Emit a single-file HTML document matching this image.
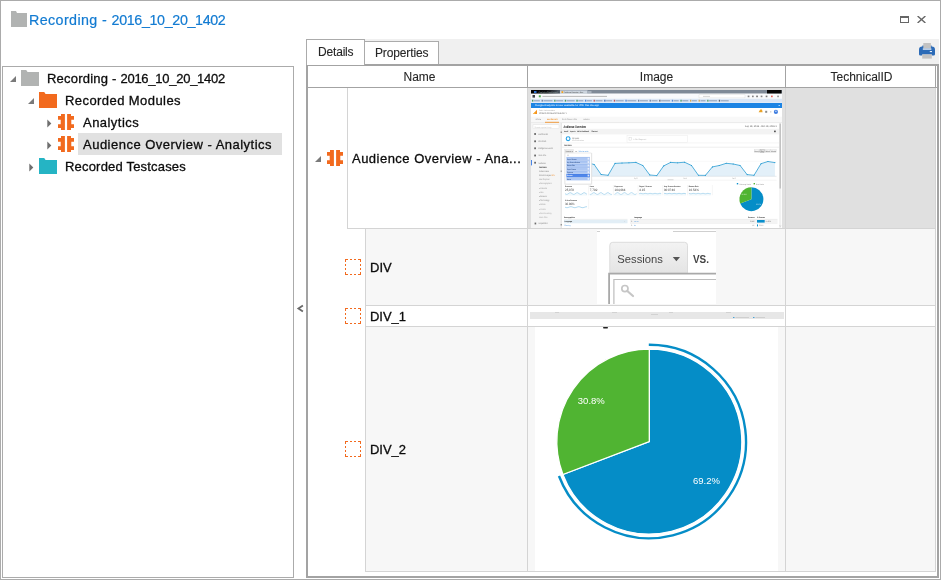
<!DOCTYPE html>
<html lang="en">
<head>
<meta charset="utf-8">
<title>Recording - 2016_10_20_1402</title>
<style>
html,body{margin:0;padding:0;}
body{width:941px;height:580px;position:relative;overflow:hidden;background:#fff;
  font-family:"Liberation Sans",sans-serif;color:#111;}
.abs{position:absolute;}
.t{position:absolute;white-space:nowrap;line-height:16px;color:#0c0c0c;-webkit-text-stroke:0.3px #0c0c0c;}
#win{left:0;top:0;width:939px;height:578px;border:1px solid #ababab;}
#title{left:29px;top:10px;font-size:14.3px;line-height:20px;color:#127bd2;-webkit-text-stroke:0.2px #127bd2;}
#tree{left:2px;top:66px;width:290px;height:510px;border:1px solid #ababab;background:#fff;}
.tr{font-size:13px;line-height:22px;height:22px;}
#sel{left:78px;top:133px;width:204px;height:22px;background:#e1e1e1;}
#strip{left:365px;top:39px;width:574px;height:25px;background:#f0f0f0;}
.tab{position:absolute;border:1px solid #ababab;border-bottom:none;background:#fff;font-size:12px;}
#grid{left:306px;top:64px;width:629px;height:510px;border:2px solid #a3a3a3;background:#fff;}
.hd{font-size:12px;line-height:20px;text-align:center;color:#262626;-webkit-text-stroke:0.1px #262626;}
.ln{position:absolute;background:#d4d4d4;}
.dk{position:absolute;background:#a3a3a3;}
.cell{position:absolute;}
.gt{font-size:13px;line-height:20px;}
</style>
</head>
<body>
<div id="win" class="abs"></div>

<!-- title bar -->
<svg class="abs" style="left:11px;top:11px" width="16" height="16" viewBox="0 0 16 16"><path d="M0 0H5L6 2H16V16H0Z" fill="#b1b3b2"/></svg>
<div id="title" class="t"><span id="ta" style="letter-spacing:0.39px">Recording - </span><span id="tb" style="letter-spacing:-0.36px">2016_10_20_1402</span></div>
<svg class="abs" style="left:900px;top:16px" width="9" height="7" viewBox="0 0 9 7"><path d="M0 0H9V7H0Z M1 2V6H8V2Z" fill="#666" fill-rule="evenodd"/></svg>
<svg class="abs" style="left:917px;top:16px" width="9" height="7" viewBox="0 0 9 7"><path d="M0.6 0L8.4 7M8.4 0L0.6 7" stroke="#666" stroke-width="1.4" fill="none"/></svg>

<!-- tree panel -->
<div id="tree" class="abs"></div>
<div id="sel" class="abs"></div>
<div id="treeitems">
<svg class="abs" style="left:10px;top:76px" width="7" height="7" viewBox="0 0 7 7"><path d="M6 0V6H0Z" fill="#7a7a7a"/></svg>
<svg class="abs" style="left:21px;top:70px" width="18" height="16" viewBox="0 0 18 16"><path d="M0 0H5.2L6.6 2H18V16H0Z" fill="#b1b3b2"/></svg>
<div class="t tr" id="r1" style="left:47px;top:68px;"><span id="r1a" style="letter-spacing:0.22px">Recording - </span><span id="r1b" style="letter-spacing:-0.26px">2016_10_20_1402</span></div>
<svg class="abs" style="left:28px;top:98px" width="7" height="7" viewBox="0 0 7 7"><path d="M6 0V6H0Z" fill="#7a7a7a"/></svg>
<svg class="abs" style="left:39px;top:92px" width="18" height="16" viewBox="0 0 18 16"><path d="M0 0H5.2L6.6 2H18V16H0Z" fill="#f26a1e"/></svg>
<div class="t tr" id="r2" style="letter-spacing:0.43px;left:65px;top:90px;">Recorded Modules</div>
<svg class="abs" style="left:47px;top:118.5px" width="5" height="9" viewBox="0 0 5 9"><path d="M0.3 0.5L4.3 4.5L0.3 8.5Z" fill="#6e6e6e"/></svg>
<svg class="abs" style="left:58px;top:114px" width="16" height="16" viewBox="0 0 16 16"><path d="M3 0H6.9V16H3V13.9H0V10.3H2.7V5.7H0V1.9H3Z M13 0H9.1V16H13V13.9H16V10.3H13.3V5.7H16V1.9H13Z" fill="#f26a1e"/></svg>
<div class="t tr" id="r3" style="letter-spacing:0.46px;left:83px;top:112px;">Analytics</div>
<svg class="abs" style="left:47px;top:140.5px" width="5" height="9" viewBox="0 0 5 9"><path d="M0.3 0.5L4.3 4.5L0.3 8.5Z" fill="#6e6e6e"/></svg>
<svg class="abs" style="left:58px;top:136px" width="16" height="16" viewBox="0 0 16 16"><path d="M3 0H6.9V16H3V13.9H0V10.3H2.7V5.7H0V1.9H3Z M13 0H9.1V16H13V13.9H16V10.3H13.3V5.7H16V1.9H13Z" fill="#f26a1e"/></svg>
<div class="t tr" id="r4" style="letter-spacing:0.49px;left:83px;top:134px;">Audience Overview - Analytics</div>
<svg class="abs" style="left:29px;top:162.5px" width="5" height="9" viewBox="0 0 5 9"><path d="M0.3 0.5L4.3 4.5L0.3 8.5Z" fill="#6e6e6e"/></svg>
<svg class="abs" style="left:39px;top:158px" width="18" height="16" viewBox="0 0 18 16"><path d="M0 0H5.2L6.6 2H18V16H0Z" fill="#25b4c4"/></svg>
<div class="t tr" id="r5" style="letter-spacing:0.19px;left:65px;top:156px;">Recorded Testcases</div>
</div>

<!-- splitter chevron -->
<svg class="abs" style="left:296px;top:304px" width="8" height="9" viewBox="0 0 8 9"><path d="M6.9 1.4L2.4 4.5L6.9 7.6" stroke="#6a6a6a" stroke-width="1.8" fill="none"/></svg>

<!-- tab strip -->
<div id="strip" class="abs"></div>
<div class="tab" style="left:306px;top:39px;width:57px;height:25px;z-index:3;"></div>
<div class="tab" style="left:365px;top:41px;width:73px;height:22px;border-left:none;"></div>
<div class="t" id="tabD" style="color:#262626;-webkit-text-stroke:0.1px #262626;letter-spacing:-0.18px;z-index:4;left:318px;top:44px;font-size:12px;">Details</div>
<div class="t" id="tabP" style="color:#262626;-webkit-text-stroke:0.1px #262626;letter-spacing:-0.13px;left:375px;top:45px;font-size:12px;">Properties</div>

<svg class="abs" style="left:919px;top:43px" width="16" height="16" viewBox="0 0 16 16">
<path d="M3.2 3.6H3.4V2.6H12.6V3.6H12.8Q16 3.6 16 6.8V11.2Q16 12.6 14.6 12.6H12.8V11.4H3.2V12.6H1.4Q0 12.6 0 11.2V6.8Q0 3.6 3.2 3.6Z" fill="#2c6bb7"/>
<rect x="4.3" y="0" width="7.6" height="5.5" fill="#c2c2c2"/>
<rect x="3.8" y="5.5" width="8.6" height="1.2" fill="#f4f7fb"/>
<rect x="10.8" y="8" width="2.2" height="1.1" fill="#e9f0f8"/>
<rect x="3.2" y="11.4" width="9.6" height="4.2" fill="#c2c2c2"/>
</svg>
<!-- grid -->
<div id="grid" class="abs"></div>
<div id="gridbody">
<div class="t hd" id="hN" style="left:310px;top:67px;width:219px;">Name</div>
<div class="t hd" id="hI" style="left:528px;top:67px;width:257px;">Image</div>
<div class="t hd" id="hT" style="left:787px;top:67px;width:149px;">TechnicalID</div>
<div class="dk" style="left:527px;top:66px;width:1px;height:21px;"></div>
<div class="dk" style="left:785px;top:66px;width:1px;height:21px;"></div>
<div class="dk" style="left:935px;top:66px;width:1px;height:21px;"></div>
<div class="dk" style="left:308px;top:87px;width:629px;height:1px;"></div>
<div class="cell" style="left:528px;top:88px;width:407px;height:140px;background:#e0e0e0;"></div>
<div class="cell" style="left:366px;top:229px;width:569px;height:76px;background:#f7f7f7;"></div>
<div class="cell" style="left:366px;top:327px;width:569px;height:244px;background:#f7f7f7;"></div>
<div class="ln" style="left:347px;top:88px;width:1px;height:141px;"></div>
<div class="ln" style="left:347px;top:228px;width:589px;height:1px;"></div>
<div class="ln" style="left:365px;top:229px;width:1px;height:343px;"></div>
<div class="ln" style="left:365px;top:305px;width:571px;height:1px;"></div>
<div class="ln" style="left:365px;top:326px;width:571px;height:1px;"></div>
<div class="ln" style="left:365px;top:571px;width:571px;height:1px;"></div>
<div class="ln" style="left:527px;top:88px;width:1px;height:484px;"></div>
<div class="ln" style="left:785px;top:88px;width:1px;height:484px;"></div>
<div class="ln" style="left:935px;top:88px;width:1px;height:484px;"></div>
<svg class="abs" style="left:315px;top:156px" width="7" height="7" viewBox="0 0 7 7"><path d="M6 0V6H0Z" fill="#7a7a7a"/></svg>
<svg class="abs" style="left:327px;top:150px" width="16" height="16" viewBox="0 0 16 16"><path d="M3 0H6.9V16H3V13.9H0V10.3H2.7V5.7H0V1.9H3Z M13 0H9.1V16H13V13.9H16V10.3H13.3V5.7H16V1.9H13Z" fill="#f26a1e"/></svg>
<div class="t gt" id="g1" style="letter-spacing:0.48px;left:352px;top:149px;">Audience Overview - Ana...</div>
<svg class="abs" style="left:345px;top:259px" width="16" height="16" viewBox="0 0 16 16"><path d="M0 0.5H3M0 15.5H3M0.5 0V3M15.5 0V3M5 0.5H7M5 15.5H7M0.5 5V7M15.5 5V7M9 0.5H11M9 15.5H11M0.5 9V11M15.5 9V11M13 0.5H16M13 15.5H16M0.5 13V16M15.5 13V16" stroke="#f26a1e" stroke-width="1" fill="none"/></svg>
<div class="t gt" id="g2" style="letter-spacing:0.0px;left:370px;top:258px;">DIV</div>
<svg class="abs" style="left:345px;top:308px" width="16" height="16" viewBox="0 0 16 16"><path d="M0 0.5H3M0 15.5H3M0.5 0V3M15.5 0V3M5 0.5H7M5 15.5H7M0.5 5V7M15.5 5V7M9 0.5H11M9 15.5H11M0.5 9V11M15.5 9V11M13 0.5H16M13 15.5H16M0.5 13V16M15.5 13V16" stroke="#f26a1e" stroke-width="1" fill="none"/></svg>
<div class="t gt" id="g3" style="letter-spacing:-0.05px;left:370px;top:307px;">DIV_1</div>
<svg class="abs" style="left:345px;top:441px" width="16" height="16" viewBox="0 0 16 16"><path d="M0 0.5H3M0 15.5H3M0.5 0V3M15.5 0V3M5 0.5H7M5 15.5H7M0.5 5V7M15.5 5V7M9 0.5H11M9 15.5H11M0.5 9V11M15.5 9V11M13 0.5H16M13 15.5H16M0.5 13V16M15.5 13V16" stroke="#f26a1e" stroke-width="1" fill="none"/></svg>
<div class="t gt" id="g4" style="letter-spacing:-0.05px;left:370px;top:440px;">DIV_2</div>
<!--T1--><svg id="img1" class="abs" style="left:531px;top:90px" width="251" height="138" viewBox="531 90 251 138" font-family="Liberation Sans, sans-serif" text-rendering="geometricPrecision">
<defs><linearGradient id="tb1" x1="0" y1="0" x2="1" y2="0"><stop offset="0" stop-color="#000"/><stop offset="0.55" stop-color="#0a0c10"/><stop offset="1" stop-color="#56606c"/></linearGradient></defs>
<rect x="531" y="90" width="251" height="138" fill="#fff"/>
<rect x="531" y="90" width="251" height="3.7" fill="#7f8a97"/>
<rect x="531" y="90" width="29" height="3.7" fill="url(#tb1)"/>
<rect x="560" y="90.4" width="27.5" height="3.3" fill="#ccd5de"/>
<rect x="587.5" y="91" width="4" height="2.7" fill="#a9b2bd"/>
<rect x="767" y="90" width="14.5" height="3.7" fill="#050505"/>
<rect x="534" y="91" width="2.5" height="2" fill="#2d6fd0"/>
<rect x="561.5" y="91.2" width="1.7" height="1.8" fill="#f4a11a"/>
<text x="564.2" y="93.1" font-size="2.1" fill="#444" textLength="19" lengthAdjust="spacingAndGlyphs">Audience Overview - Goo</text>
<text x="538.5" y="93" font-size="2.1" fill="#9aa" textLength="19" lengthAdjust="spacingAndGlyphs">Analytics Dashboard</text>
<rect x="531" y="93.7" width="251" height="4.9" fill="#f9fafc"/>
<rect x="532.5" y="95" width="2.5" height="2.6" fill="#3a3f46"/>
<rect x="538.8" y="95.3" width="2" height="2" fill="#4caf50"/>
<path d="M542.5 96.4H607" stroke="#a8a8a8" stroke-width="0.8"/>
<rect x="699" y="94.8" width="46" height="3.1" fill="#fff" stroke="#d9d9d9" stroke-width="0.4"/>
<path d="M703 96.4H710" stroke="#c4c4c4" stroke-width="0.7"/>
<rect x="747.7" y="95.6" width="1.7" height="1.6" fill="#666" opacity="0.8"/>
<rect x="752" y="95.6" width="1.7" height="1.6" fill="#666" opacity="0.8"/>
<rect x="756.2" y="95.6" width="1.7" height="1.6" fill="#555" opacity="0.8"/>
<rect x="760.7" y="95.6" width="1.7" height="1.6" fill="#666" opacity="0.8"/>
<rect x="765.7" y="95.6" width="1.7" height="1.6" fill="#555" opacity="0.8"/>
<rect x="771" y="95.6" width="1.7" height="1.6" fill="#e03a2a" opacity="0.8"/>
<rect x="777.2" y="95.6" width="1.7" height="1.6" fill="#777" opacity="0.8"/>
<rect x="531" y="98.7" width="251" height="4.1" fill="#dbe6f5"/>
<rect x="532" y="99.8" width="1.3" height="1.8" fill="#2a8a3a" opacity="0.8"/>
<path d="M533.9 100.8H539.9" stroke="#62748f" stroke-width="0.9" opacity="0.7"/>
<rect x="541.6" y="99.8" width="1.3" height="1.8" fill="#5a6c88" opacity="0.8"/>
<path d="M543.5 100.8H552.5" stroke="#62748f" stroke-width="0.9" opacity="0.7"/>
<rect x="554.2" y="99.8" width="1.3" height="1.8" fill="#2a8a3a" opacity="0.8"/>
<path d="M556.1 100.8H563.1" stroke="#62748f" stroke-width="0.9" opacity="0.7"/>
<rect x="564.8" y="99.8" width="1.3" height="1.8" fill="#2a8a3a" opacity="0.8"/>
<path d="M566.7 100.8H574.7" stroke="#62748f" stroke-width="0.9" opacity="0.7"/>
<rect x="576.4" y="99.8" width="1.3" height="1.8" fill="#2a8a3a" opacity="0.8"/>
<path d="M578.3 100.8H583.3" stroke="#62748f" stroke-width="0.9" opacity="0.7"/>
<rect x="585" y="99.8" width="1.3" height="1.8" fill="#3b6fc4" opacity="0.8"/>
<path d="M586.9 100.8H591.9" stroke="#62748f" stroke-width="0.9" opacity="0.7"/>
<rect x="593.6" y="99.8" width="1.3" height="1.8" fill="#c03030" opacity="0.8"/>
<path d="M595.5 100.8H602.5" stroke="#62748f" stroke-width="0.9" opacity="0.7"/>
<rect x="604.2" y="99.8" width="1.3" height="1.8" fill="#274b9a" opacity="0.8"/>
<path d="M606.1 100.8H612.1" stroke="#62748f" stroke-width="0.9" opacity="0.7"/>
<rect x="613.8" y="99.8" width="1.3" height="1.8" fill="#c03030" opacity="0.8"/>
<path d="M615.7 100.8H623.7" stroke="#62748f" stroke-width="0.9" opacity="0.7"/>
<rect x="625.4" y="99.8" width="1.3" height="1.8" fill="#3b6fc4" opacity="0.8"/>
<path d="M627.3 100.8H636.3" stroke="#62748f" stroke-width="0.9" opacity="0.7"/>
<rect x="638" y="99.8" width="1.3" height="1.8" fill="#5a6c88" opacity="0.8"/>
<path d="M639.9 100.8H647.9" stroke="#62748f" stroke-width="0.9" opacity="0.7"/>
<rect x="649.6" y="99.8" width="1.3" height="1.8" fill="#5a6c88" opacity="0.8"/>
<path d="M651.5 100.8H657.5" stroke="#62748f" stroke-width="0.9" opacity="0.7"/>
<rect x="659.2" y="99.8" width="1.3" height="1.8" fill="#444" opacity="0.8"/>
<path d="M661.1 100.8H670.1" stroke="#62748f" stroke-width="0.9" opacity="0.7"/>
<rect x="671.8" y="99.8" width="1.3" height="1.8" fill="#3b6fc4" opacity="0.8"/>
<path d="M673.7 100.8H678.7" stroke="#62748f" stroke-width="0.9" opacity="0.7"/>
<rect x="680.4" y="99.8" width="1.3" height="1.8" fill="#2a8a3a" opacity="0.8"/>
<path d="M682.3 100.8H688.3" stroke="#62748f" stroke-width="0.9" opacity="0.7"/>
<rect x="690" y="99.8" width="1.3" height="1.8" fill="#d89a20" opacity="0.8"/>
<path d="M691.9 100.8H696.9" stroke="#62748f" stroke-width="0.9" opacity="0.7"/>
<rect x="698.6" y="99.8" width="1.3" height="1.8" fill="#d89a20" opacity="0.8"/>
<path d="M700.5 100.8H705.5" stroke="#62748f" stroke-width="0.9" opacity="0.7"/>
<rect x="707.2" y="99.8" width="1.3" height="1.8" fill="#2a8a3a" opacity="0.8"/>
<path d="M709.1 100.8H717.1" stroke="#62748f" stroke-width="0.9" opacity="0.7"/>
<rect x="718.8" y="99.8" width="1.3" height="1.8" fill="#444" opacity="0.8"/>
<path d="M720.7 100.8H728.7" stroke="#62748f" stroke-width="0.9" opacity="0.7"/>
<rect x="531" y="103" width="251" height="5" fill="#1c84e4"/>
<text x="535" y="106.2" font-size="2.5" fill="#fff" textLength="64" lengthAdjust="spacingAndGlyphs">Google Analytics is now available for iOS. Get the app</text>
<path d="M778.5 105.5H780" stroke="#cfe4fa" stroke-width="0.8"/>
<path d="M533 114L537 109.8V114Z" fill="#f5931d"/>
<path d="M533 114L535.2 111.7V114Z" fill="#f9b23a"/>
<text x="539" y="111" font-size="1.9" fill="#a5a5a5" textLength="16" lengthAdjust="spacingAndGlyphs">Online-Dokumentation</text>
<text x="539" y="114.3" font-size="2.6" fill="#6e6e6e" textLength="28" lengthAdjust="spacingAndGlyphs">Online-Dokumentation ˅</text>
<path d="M758.6 112.2L760.2 109.6H762L762.6 112.2Z" fill="#e9a227"/>
<rect x="765.2" y="110.8" width="2" height="2" fill="#8a8a8a"/>
<rect x="770" y="111" width="1.4" height="1.6" fill="#d8d8d8"/>
<circle cx="775.9" cy="111.9" r="2.1" fill="#3f7de0"/>
<circle cx="775.9" cy="111.3" r="0.8" fill="#cfe0fb"/>
<rect x="531" y="116.7" width="251" height="5.6" fill="#f8f8f8"/>
<text x="535" y="120" font-size="2" fill="#8c8c8c" textLength="6" lengthAdjust="spacingAndGlyphs">HOME</text>
<text x="547" y="120" font-size="2" fill="#ef8b1f" font-weight="bold" textLength="10.5" lengthAdjust="spacingAndGlyphs">REPORTING</text>
<text x="562" y="120" font-size="2" fill="#8c8c8c" textLength="15" lengthAdjust="spacingAndGlyphs">CUSTOMIZATION</text>
<text x="583" y="120" font-size="2" fill="#8c8c8c" textLength="6.5" lengthAdjust="spacingAndGlyphs">ADMIN</text>
<path d="M531 122.6H782" stroke="#dedede" stroke-width="0.6"/>
<path d="M545 122.3H559" stroke="#f1922a" stroke-width="0.9"/>
<rect x="531" y="123" width="29.6" height="105" fill="#f5f5f5"/>
<rect x="533" y="124.8" width="26" height="3.8" fill="#fff" stroke="#dcdcdc" stroke-width="0.4"/>
<text x="534.5" y="127.5" font-size="1.8" fill="#bdbdbd" textLength="17" lengthAdjust="spacingAndGlyphs">Search reports &amp; help</text>
<rect x="534.2" y="133.1" width="1.8" height="1.8" fill="#6a6a6a"/>
<text x="538.3" y="134.8" font-size="2.3" fill="#7d7d7d" textLength="9.5" lengthAdjust="spacingAndGlyphs">Dashboards</text>
<rect x="534.2" y="140.4" width="1.8" height="1.8" fill="#6a6a6a"/>
<text x="538.3" y="142.1" font-size="2.3" fill="#7d7d7d" textLength="8" lengthAdjust="spacingAndGlyphs">Shortcuts</text>
<rect x="534.2" y="147.4" width="1.8" height="1.8" fill="#6a6a6a"/>
<text x="538.3" y="149.1" font-size="2.3" fill="#7d7d7d" textLength="14.5" lengthAdjust="spacingAndGlyphs">Intelligence Events</text>
<rect x="534.2" y="154.6" width="1.8" height="1.8" fill="#6a6a6a"/>
<text x="538.3" y="156.3" font-size="2.3" fill="#7d7d7d" textLength="8" lengthAdjust="spacingAndGlyphs">Real-Time</text>
<rect x="534.2" y="161.8" width="1.8" height="1.8" fill="#6a6a6a"/>
<text x="538.3" y="163.5" font-size="2.3" fill="#7d7d7d" textLength="7.5" lengthAdjust="spacingAndGlyphs">Audience</text>
<rect x="531" y="160" width="1" height="5.4" fill="#4a86e8"/>
<text x="539" y="168.2" font-size="2.2" fill="#222" font-weight="bold" textLength="7.5" lengthAdjust="spacingAndGlyphs">Overview</text>
<text x="539" y="172.2" font-size="2.2" fill="#777" textLength="10" lengthAdjust="spacingAndGlyphs">Active Users</text>
<text x="539" y="176.1" font-size="2.2" fill="#777" textLength="12" lengthAdjust="spacingAndGlyphs">Cohort Analysis</text>
<text x="539" y="180.2" font-size="2.2" fill="#999" textLength="10.5" lengthAdjust="spacingAndGlyphs">User Explorer</text>
<text x="539" y="184.4" font-size="2.2" fill="#999" textLength="12.5" lengthAdjust="spacingAndGlyphs">▸ Demographics</text>
<text x="539" y="188.7" font-size="2.2" fill="#999" textLength="8" lengthAdjust="spacingAndGlyphs">▸ Interests</text>
<text x="539" y="192.9" font-size="2.2" fill="#999" textLength="4.5" lengthAdjust="spacingAndGlyphs">▸ Geo</text>
<text x="539" y="197.1" font-size="2.2" fill="#888" textLength="8" lengthAdjust="spacingAndGlyphs">▸ Behavior</text>
<text x="539" y="201.2" font-size="2.2" fill="#888" textLength="10.5" lengthAdjust="spacingAndGlyphs">▸ Technology</text>
<text x="539" y="205.4" font-size="2.2" fill="#999" textLength="6.5" lengthAdjust="spacingAndGlyphs">▸ Mobile</text>
<text x="539" y="209.5" font-size="2.2" fill="#aaa" textLength="7" lengthAdjust="spacingAndGlyphs">▸ Custom</text>
<text x="539" y="213.9" font-size="2.2" fill="#aaa" textLength="12.5" lengthAdjust="spacingAndGlyphs">▸ Benchmarking</text>
<text x="539" y="218.1" font-size="2.2" fill="#aaa" textLength="8.5" lengthAdjust="spacingAndGlyphs">Users Flow</text>
<text x="551.5" y="176" font-size="1.7" fill="#f08a24" textLength="3.2" lengthAdjust="spacingAndGlyphs">BETA</text>
<rect x="534.6" y="222.6" width="1.6" height="1.8" fill="#6a6a6a"/>
<text x="538.3" y="224.3" font-size="2.3" fill="#7d7d7d" textLength="9.5" lengthAdjust="spacingAndGlyphs">Acquisition</text>
<path d="M561.2 123V228" stroke="#d9d9d9" stroke-width="0.9"/>
<rect x="560.7" y="131.5" width="1" height="1.5" fill="#777"/>
<rect x="560.7" y="170.5" width="1" height="1.5" fill="#999"/>
<rect x="560.7" y="224" width="1" height="1.5" fill="#777"/>
<text x="563.6" y="127.8" font-size="3.7" fill="#111" font-weight="bold" textLength="22.2" lengthAdjust="spacingAndGlyphs">Audience Overview</text>
<text x="744.8" y="126.7" font-size="2.4" fill="#5c5c5c" textLength="32" lengthAdjust="spacingAndGlyphs">Sep 19, 2016 - Oct 19, 2016 ▾</text>
<rect x="562" y="128.8" width="217.2" height="5.6" fill="#f3f3f3"/>
<text x="564" y="132.3" font-size="2" fill="#333" font-weight="bold" textLength="4.2" lengthAdjust="spacingAndGlyphs">Email</text>
<text x="570" y="132.3" font-size="2" fill="#333" font-weight="bold" textLength="5.5" lengthAdjust="spacingAndGlyphs">Export ▾</text>
<text x="577" y="132.3" font-size="2" fill="#333" font-weight="bold" textLength="12" lengthAdjust="spacingAndGlyphs">Add to Dashboard</text>
<text x="591.5" y="132.3" font-size="2" fill="#333" font-weight="bold" textLength="6" lengthAdjust="spacingAndGlyphs">Shortcut</text>
<rect x="774" y="130.6" width="1.8" height="1.6" fill="#555"/>
<circle cx="568.1" cy="138.7" r="1.9" fill="none" stroke="#23a0e6" stroke-width="1.1"/>
<text x="572" y="138.8" font-size="2.2" fill="#666" textLength="7.2" lengthAdjust="spacingAndGlyphs">All Users</text>
<text x="572" y="141" font-size="1.7" fill="#a0a0a0" textLength="12" lengthAdjust="spacingAndGlyphs">100.00% Sessions</text>
<rect x="627" y="135.6" width="60.5" height="6.7" fill="none" stroke="#ececec" stroke-width="0.5"/>
<rect x="629" y="137.4" width="2.6" height="2.7" fill="#fff" stroke="#cfcfcf" stroke-width="0.4"/>
<text x="633.3" y="139.6" font-size="2.1" fill="#b4b4b4" textLength="13" lengthAdjust="spacingAndGlyphs">+ Add Segment</text>
<path d="M562 142.9H779" stroke="#ebebeb" stroke-width="0.5"/>
<text x="564" y="146.3" font-size="2.2" fill="#333" font-weight="bold" textLength="7.6" lengthAdjust="spacingAndGlyphs">Overview</text>
<path d="M562 147.2H779" stroke="#e2e2e2" stroke-width="0.6"/>
<rect x="564.8" y="149.4" width="8.6" height="3.4" fill="#ebebeb" stroke="#d5d5d5" stroke-width="0.3"/>
<text x="565.5" y="152" font-size="1.9" fill="#555" textLength="7.3" lengthAdjust="spacingAndGlyphs">Sessions ▾</text>
<text x="575" y="152" font-size="1.9" fill="#666" textLength="2.4" lengthAdjust="spacingAndGlyphs">vs.</text>
<text x="578.6" y="152" font-size="2" fill="#3b8ede" textLength="10" lengthAdjust="spacingAndGlyphs">Select a metric</text>
<rect x="754.5" y="149.4" width="5.1" height="3.4" fill="#f4f4f4" stroke="#d6d6d6" stroke-width="0.35"/>
<text x="757.05" y="152" font-size="1.8" fill="#555" text-anchor="middle">Hourly</text>
<rect x="760" y="149.4" width="4.6" height="3.4" fill="#e2e2e2" stroke="#999" stroke-width="0.35"/>
<text x="762.3" y="152" font-size="1.8" fill="#555" text-anchor="middle">Day</text>
<rect x="765" y="149.4" width="5.4" height="3.4" fill="#f4f4f4" stroke="#d6d6d6" stroke-width="0.35"/>
<text x="767.7" y="152" font-size="1.8" fill="#555" text-anchor="middle">Week</text>
<rect x="770.8" y="149.4" width="5.4" height="3.4" fill="#f4f4f4" stroke="#d6d6d6" stroke-width="0.35"/>
<text x="773.5" y="152" font-size="1.8" fill="#555" text-anchor="middle">Month</text>
<path d="M565 161.3H776.5" stroke="#f0f0f0" stroke-width="0.5"/>
<path d="M566.4 165.8 L573.3 163.3 L580.3 162.9 L587.2 162.6 L594.2 164.5 L601.1 174.5 L608.1 175.3 L615.0 163.4 L622.0 163.0 L628.9 162.8 L635.9 162.4 L642.8 165.5 L649.8 175.0 L656.8 175.6 L663.7 165.9 L670.6 162.4 L677.6 162.8 L684.5 162.2 L691.5 165.5 L698.4 175.3 L705.4 175.4 L712.4 166.9 L719.3 165.5 L726.2 163.3 L733.2 164.0 L740.1 165.5 L747.1 174.6 L754.0 175.3 L761.0 163.7 L767.9 161.5 L774.9 162.6 L774.9 176.2 L566.4 176.2Z" fill="#e3f0f9"/>
<path d="M566.4 165.8 L573.3 163.3 L580.3 162.9 L587.2 162.6 L594.2 164.5 L601.1 174.5 L608.1 175.3 L615.0 163.4 L622.0 163.0 L628.9 162.8 L635.9 162.4 L642.8 165.5 L649.8 175.0 L656.8 175.6 L663.7 165.9 L670.6 162.4 L677.6 162.8 L684.5 162.2 L691.5 165.5 L698.4 175.3 L705.4 175.4 L712.4 166.9 L719.3 165.5 L726.2 163.3 L733.2 164.0 L740.1 165.5 L747.1 174.6 L754.0 175.3 L761.0 163.7 L767.9 161.5 L774.9 162.6" fill="none" stroke="#1d97d0" stroke-width="0.75" stroke-linejoin="round"/>
<circle cx="566.4" cy="165.8" r="0.55" fill="#1d97d0"/>
<circle cx="573.3" cy="163.3" r="0.55" fill="#1d97d0"/>
<circle cx="580.3" cy="162.9" r="0.55" fill="#1d97d0"/>
<circle cx="587.2" cy="162.6" r="0.55" fill="#1d97d0"/>
<circle cx="594.2" cy="164.5" r="0.55" fill="#1d97d0"/>
<circle cx="601.1" cy="174.5" r="0.55" fill="#1d97d0"/>
<circle cx="608.1" cy="175.3" r="0.55" fill="#1d97d0"/>
<circle cx="615.0" cy="163.4" r="0.55" fill="#1d97d0"/>
<circle cx="622.0" cy="163.0" r="0.55" fill="#1d97d0"/>
<circle cx="628.9" cy="162.8" r="0.55" fill="#1d97d0"/>
<circle cx="635.9" cy="162.4" r="0.55" fill="#1d97d0"/>
<circle cx="642.8" cy="165.5" r="0.55" fill="#1d97d0"/>
<circle cx="649.8" cy="175.0" r="0.55" fill="#1d97d0"/>
<circle cx="656.8" cy="175.6" r="0.55" fill="#1d97d0"/>
<circle cx="663.7" cy="165.9" r="0.55" fill="#1d97d0"/>
<circle cx="670.6" cy="162.4" r="0.55" fill="#1d97d0"/>
<circle cx="677.6" cy="162.8" r="0.55" fill="#1d97d0"/>
<circle cx="684.5" cy="162.2" r="0.55" fill="#1d97d0"/>
<circle cx="691.5" cy="165.5" r="0.55" fill="#1d97d0"/>
<circle cx="698.4" cy="175.3" r="0.55" fill="#1d97d0"/>
<circle cx="705.4" cy="175.4" r="0.55" fill="#1d97d0"/>
<circle cx="712.4" cy="166.9" r="0.55" fill="#1d97d0"/>
<circle cx="719.3" cy="165.5" r="0.55" fill="#1d97d0"/>
<circle cx="726.2" cy="163.3" r="0.55" fill="#1d97d0"/>
<circle cx="733.2" cy="164.0" r="0.55" fill="#1d97d0"/>
<circle cx="740.1" cy="165.5" r="0.55" fill="#1d97d0"/>
<circle cx="747.1" cy="174.6" r="0.55" fill="#1d97d0"/>
<circle cx="754.0" cy="175.3" r="0.55" fill="#1d97d0"/>
<circle cx="761.0" cy="163.7" r="0.55" fill="#1d97d0"/>
<circle cx="767.9" cy="161.5" r="0.55" fill="#1d97d0"/>
<circle cx="774.9" cy="162.6" r="0.55" fill="#1d97d0"/>
<path d="M565 176.3H776.5" stroke="#cfd8de" stroke-width="0.5"/>
<text x="585.5" y="178.9" font-size="1.8" fill="#999" textLength="3.6" lengthAdjust="spacingAndGlyphs">Sep 22</text>
<text x="634" y="178.9" font-size="1.8" fill="#999" textLength="3.6" lengthAdjust="spacingAndGlyphs">Sep 29</text>
<text x="683.3" y="178.9" font-size="1.8" fill="#999" textLength="3.6" lengthAdjust="spacingAndGlyphs">Oct 6</text>
<text x="732.3" y="178.9" font-size="1.8" fill="#999" textLength="3.6" lengthAdjust="spacingAndGlyphs">Oct 13</text>
<path d="M565 180.2H776.5" stroke="#e9e9e9" stroke-width="0.5"/>
<rect x="667.5" y="179.4" width="6" height="0.8" fill="#d0d0d0"/>
<rect x="564.6" y="153" width="27.6" height="31.6" fill="#d9d9d9" opacity="0.55"/>
<rect x="565" y="153" width="26.6" height="31" fill="#fff" stroke="#cdcdcd" stroke-width="0.4"/>
<path d="M567 155.2H569" stroke="#aaa" stroke-width="0.5"/>
<rect x="566.4" y="157.2" width="23.5" height="3.05" fill="#adc7f3"/>
<path d="M566.4 157.35H589.9" stroke="#5e8fe0" stroke-width="0.3"/>
<text x="567" y="159.5" font-size="1.9" fill="#33558f" font-weight="bold" textLength="9.5" lengthAdjust="spacingAndGlyphs">Pages / Session</text>
<rect x="587.6" y="157.8" width="1.6" height="1.8" fill="#eef3fc" opacity="0.9"/>
<rect x="566.4" y="160.56" width="23.5" height="3.05" fill="#adc7f3"/>
<path d="M566.4 160.71H589.9" stroke="#5e8fe0" stroke-width="0.3"/>
<text x="567" y="162.86" font-size="1.9" fill="#33558f" font-weight="bold" textLength="13" lengthAdjust="spacingAndGlyphs">Avg. Session Duration</text>
<rect x="587.6" y="161.16" width="1.6" height="1.8" fill="#eef3fc" opacity="0.9"/>
<rect x="566.4" y="163.92" width="23.5" height="3.05" fill="#adc7f3"/>
<path d="M566.4 164.07H589.9" stroke="#5e8fe0" stroke-width="0.3"/>
<text x="567" y="166.22" font-size="1.9" fill="#33558f" font-weight="bold" textLength="8" lengthAdjust="spacingAndGlyphs">Bounce Rate</text>
<rect x="587.6" y="164.52" width="1.6" height="1.8" fill="#eef3fc" opacity="0.9"/>
<rect x="566.4" y="167.28" width="23.5" height="3.05" fill="#adc7f3"/>
<path d="M566.4 167.43H589.9" stroke="#5e8fe0" stroke-width="0.3"/>
<text x="567" y="169.58" font-size="1.9" fill="#33558f" font-weight="bold" textLength="9" lengthAdjust="spacingAndGlyphs">Pages / Session</text>
<rect x="587.6" y="167.88" width="1.6" height="1.8" fill="#eef3fc" opacity="0.9"/>
<rect x="566.4" y="170.64" width="23.5" height="3.05" fill="#adc7f3"/>
<path d="M566.4 170.79H589.9" stroke="#5e8fe0" stroke-width="0.3"/>
<text x="567" y="172.94" font-size="1.9" fill="#33558f" font-weight="bold" textLength="6" lengthAdjust="spacingAndGlyphs">Pageviews</text>
<rect x="587.6" y="171.24" width="1.6" height="1.8" fill="#eef3fc" opacity="0.9"/>
<rect x="566.4" y="174" width="23.5" height="3.05" fill="#4f86ea"/>
<path d="M566.4 174.15H589.9" stroke="#2f6fd6" stroke-width="0.3"/>
<text x="567" y="176.3" font-size="1.9" fill="#fff" font-weight="bold" textLength="5.5" lengthAdjust="spacingAndGlyphs">Sessions</text>
<rect x="587.6" y="174.6" width="1.6" height="1.8" fill="#eef3fc" opacity="0.9"/>
<rect x="566.4" y="177.36" width="23.5" height="3.05" fill="#adc7f3"/>
<path d="M566.4 177.51H589.9" stroke="#5e8fe0" stroke-width="0.3"/>
<text x="567" y="179.66" font-size="1.9" fill="#33558f" font-weight="bold" textLength="4" lengthAdjust="spacingAndGlyphs">Users</text>
<rect x="587.6" y="177.96" width="1.6" height="1.8" fill="#eef3fc" opacity="0.9"/>
<text x="565" y="187" font-size="1.9" fill="#333" font-weight="bold" textLength="7" lengthAdjust="spacingAndGlyphs">Sessions</text>
<text x="565" y="191.1" font-size="3.2" fill="#3c3c3c" textLength="9" lengthAdjust="spacingAndGlyphs">25,078</text>
<path d="M588.6 185V195.3" stroke="#ececec" stroke-width="0.5"/>
<path d="M565.0 193.60 L566.0 194.30 L567.0 194.48 L568.0 193.98 L569.0 193.20 L570.0 192.72 L571.0 192.90 L572.0 193.62 L573.0 194.31 L574.0 194.47 L575.0 193.97 L576.0 193.19 L577.0 192.72 L578.0 192.91 L579.0 193.63 L580.0 194.32 L581.0 194.47 L582.0 193.96 L583.0 193.17 L584.0 192.71 L585.0 192.92 L586.0 193.65 L587.0 194.33" fill="none" stroke="#7fc1e6" stroke-width="0.6"/>
<path d="M565 194.9H587" stroke="#d6ebf7" stroke-width="0.5"/>
<text x="589.8" y="187" font-size="1.9" fill="#333" font-weight="bold" textLength="4.2" lengthAdjust="spacingAndGlyphs">Users</text>
<text x="589.8" y="191.1" font-size="3.2" fill="#3c3c3c" textLength="7.6" lengthAdjust="spacingAndGlyphs">7,792</text>
<path d="M613.4 185V195.3" stroke="#ececec" stroke-width="0.5"/>
<path d="M589.8 194.36 L590.8 194.45 L591.8 193.90 L592.8 193.12 L593.8 192.71 L594.8 192.97 L595.8 193.70 L596.8 194.37 L597.8 194.45 L598.8 193.89 L599.8 193.11 L600.8 192.70 L601.8 192.98 L602.8 193.72 L603.8 194.37 L604.8 194.44 L605.8 193.87 L606.8 193.10 L607.8 192.70 L608.8 192.99 L609.8 193.73 L610.8 194.38 L611.8 194.44" fill="none" stroke="#7fc1e6" stroke-width="0.6"/>
<path d="M589.8 194.9H611.8" stroke="#d6ebf7" stroke-width="0.5"/>
<text x="614.5" y="187" font-size="1.9" fill="#333" font-weight="bold" textLength="8" lengthAdjust="spacingAndGlyphs">Pageviews</text>
<text x="614.5" y="191.1" font-size="3.2" fill="#3c3c3c" textLength="11" lengthAdjust="spacingAndGlyphs">104,064</text>
<path d="M638.1 185V195.3" stroke="#ececec" stroke-width="0.5"/>
<path d="M614.5 194.42 L615.5 193.82 L616.5 193.05 L617.5 192.70 L618.5 193.03 L619.5 193.79 L620.5 194.41 L621.5 194.41 L622.5 193.80 L623.5 193.04 L624.5 192.70 L625.5 193.04 L626.5 193.81 L627.5 194.42 L628.5 194.41 L629.5 193.79 L630.5 193.03 L631.5 192.70 L632.5 193.06 L633.5 193.82 L634.5 194.42 L635.5 194.40 L636.5 193.77" fill="none" stroke="#7fc1e6" stroke-width="0.6"/>
<path d="M614.5 194.9H636.5" stroke="#d6ebf7" stroke-width="0.5"/>
<text x="639.2" y="187" font-size="1.9" fill="#333" font-weight="bold" textLength="12.5" lengthAdjust="spacingAndGlyphs">Pages / Session</text>
<text x="639.2" y="191.1" font-size="3.2" fill="#3c3c3c" textLength="6" lengthAdjust="spacingAndGlyphs">4.15</text>
<path d="M662.8 185V195.3" stroke="#ececec" stroke-width="0.5"/>
<path d="M639.2 193.64 L640.2 193.37 L641.2 193.44 L642.2 193.74 L643.2 193.84 L644.2 193.58 L645.2 193.35 L646.2 193.49 L647.2 193.79 L648.2 193.81 L649.2 193.53 L650.2 193.35 L651.2 193.54 L652.2 193.82 L653.2 193.78 L654.2 193.48 L655.2 193.36 L656.2 193.59 L657.2 193.84 L658.2 193.74 L659.2 193.43 L660.2 193.38 L661.2 193.65" fill="none" stroke="#7fc1e6" stroke-width="0.6"/>
<path d="M639.2 194.9H661.2" stroke="#d6ebf7" stroke-width="0.5"/>
<text x="664" y="187" font-size="1.9" fill="#333" font-weight="bold" textLength="16.5" lengthAdjust="spacingAndGlyphs">Avg. Session Duration</text>
<text x="664" y="191.1" font-size="3.2" fill="#3c3c3c" textLength="11" lengthAdjust="spacingAndGlyphs">00:07:40</text>
<path d="M687.6 185V195.3" stroke="#ececec" stroke-width="0.5"/>
<path d="M664.0 193.41 L665.0 193.39 L666.0 193.68 L667.0 193.85 L668.0 193.66 L669.0 193.38 L670.0 193.43 L671.0 193.73 L672.0 193.84 L673.0 193.60 L674.0 193.36 L675.0 193.47 L676.0 193.77 L677.0 193.82 L678.0 193.55 L679.0 193.35 L680.0 193.52 L681.0 193.81 L682.0 193.79 L683.0 193.50 L684.0 193.35 L685.0 193.57 L686.0 193.83" fill="none" stroke="#7fc1e6" stroke-width="0.6"/>
<path d="M664 194.9H686" stroke="#d6ebf7" stroke-width="0.5"/>
<text x="688.8" y="187" font-size="1.9" fill="#333" font-weight="bold" textLength="9.8" lengthAdjust="spacingAndGlyphs">Bounce Rate</text>
<text x="688.8" y="191.1" font-size="3.2" fill="#3c3c3c" textLength="10" lengthAdjust="spacingAndGlyphs">10.54%</text>
<path d="M712.4 185V195.3" stroke="#ececec" stroke-width="0.5"/>
<path d="M688.8 193.36 L689.8 193.60 L690.8 193.84 L691.8 193.73 L692.8 193.43 L693.8 193.38 L694.8 193.66 L695.8 193.85 L696.8 193.68 L697.8 193.39 L698.8 193.41 L699.8 193.71 L700.8 193.85 L701.8 193.62 L702.8 193.37 L703.8 193.45 L704.8 193.75 L705.8 193.83 L706.8 193.57 L707.8 193.35 L708.8 193.50 L709.8 193.79 L710.8 193.80" fill="none" stroke="#7fc1e6" stroke-width="0.6"/>
<path d="M688.8 194.9H710.8" stroke="#d6ebf7" stroke-width="0.5"/>
<text x="565" y="201.1" font-size="1.9" fill="#333" font-weight="bold" textLength="12" lengthAdjust="spacingAndGlyphs">% New Sessions</text>
<text x="565" y="205" font-size="3.2" fill="#3c3c3c" textLength="9.6" lengthAdjust="spacingAndGlyphs">30.80%</text>
<path d="M565.0 207.20 L566.0 207.56 L567.0 207.70 L568.0 207.54 L569.0 207.17 L570.0 206.82 L571.0 206.70 L572.0 206.88 L573.0 207.26 L574.0 207.60 L575.0 207.69 L576.0 207.49 L577.0 207.11 L578.0 206.79 L579.0 206.71 L580.0 206.93 L581.0 207.32 L582.0 207.63 L583.0 207.68 L584.0 207.44 L585.0 207.06 L586.0 206.76 L587.0 206.73" fill="none" stroke="#7fc1e6" stroke-width="0.6"/>
<path d="M588.6 199V209" stroke="#ececec" stroke-width="0.5"/>
<rect x="736.8" y="183" width="1.4" height="1.4" fill="#0a8fcc"/>
<text x="739.4" y="184.5" font-size="1.9" fill="#8a8a8a" textLength="11.5" lengthAdjust="spacingAndGlyphs">Returning Visitor</text>
<rect x="753.6" y="183" width="1.4" height="1.4" fill="#50b432"/>
<text x="756" y="184.5" font-size="1.9" fill="#8a8a8a" textLength="8" lengthAdjust="spacingAndGlyphs">New Visitor</text>
<path d="M751.4 199.2L751.4 187.2A12 12 0 1 1 740.19 203.48Z" fill="#058dc7"/>
<path d="M751.4 199.2L751.4 187.2A12 12 0 0 0 740.19 203.48Z" fill="#50b432"/>
<text x="744" y="195.2" font-size="1.7" fill="#dff0d8" text-anchor="middle">30.8%</text>
<text x="758.6" y="205.2" font-size="1.7" fill="#d6ecf7" text-anchor="middle">69.2%</text>
<text x="564" y="218.4" font-size="2" fill="#333" font-weight="bold" textLength="11" lengthAdjust="spacingAndGlyphs">Demographics</text>
<path d="M564 219.4H627.5" stroke="#dcdcdc" stroke-width="0.4"/>
<rect x="564" y="219.8" width="63.5" height="3.5" fill="#e2eef6"/>
<text x="564.6" y="222.3" font-size="2" fill="#222" font-weight="bold" textLength="7.6" lengthAdjust="spacingAndGlyphs">Language</text>
<text x="624.6" y="222.3" font-size="2.2" fill="#888">›</text>
<text x="564.6" y="226.3" font-size="2" fill="#3b8ede" textLength="6" lengthAdjust="spacingAndGlyphs">Country</text>
<text x="634" y="218.4" font-size="2" fill="#333" font-weight="bold" textLength="8" lengthAdjust="spacingAndGlyphs">Language</text>
<rect x="630" y="219.6" width="147.5" height="3.7" fill="#f4f4f4"/>
<path d="M630 219.4H777.5" stroke="#dcdcdc" stroke-width="0.4"/>
<path d="M630 223.5H777.5" stroke="#e6e6e6" stroke-width="0.4"/>
<text x="631" y="222.3" font-size="1.9" fill="#777">1.</text>
<text x="634" y="222.3" font-size="1.9" fill="#3b8ede" textLength="4.4" lengthAdjust="spacingAndGlyphs">en-us</text>
<text x="631" y="226.3" font-size="1.9" fill="#777">2.</text>
<text x="634" y="226.3" font-size="1.9" fill="#3b8ede" textLength="2" lengthAdjust="spacingAndGlyphs">de</text>
<text x="748" y="218.2" font-size="1.9" fill="#222" font-weight="bold" textLength="6.5" lengthAdjust="spacingAndGlyphs">Sessions</text>
<text x="757" y="218.2" font-size="1.9" fill="#222" font-weight="bold" textLength="8" lengthAdjust="spacingAndGlyphs">% Sessions</text>
<text x="750" y="222.1" font-size="1.9" fill="#666" textLength="4.4" lengthAdjust="spacingAndGlyphs">13,840</text>
<rect x="757" y="220" width="7.7" height="2.6" fill="#0a8fcc"/>
<text x="765.8" y="222.1" font-size="1.9" fill="#666" textLength="5.2" lengthAdjust="spacingAndGlyphs">55.19%</text>
<text x="752" y="226.1" font-size="1.9" fill="#888" textLength="2.4" lengthAdjust="spacingAndGlyphs">5,860</text>
<rect x="757" y="224.4" width="1" height="2" fill="#0a8fcc"/>
<text x="759" y="226.1" font-size="1.9" fill="#777" textLength="4.4" lengthAdjust="spacingAndGlyphs">23.37%</text>
<rect x="779.2" y="123" width="2" height="105" fill="#f1f1f1"/>
<rect x="779.5" y="123.6" width="1.4" height="64.9" fill="#bdbdbd"/>
<path d="M779.6 225.6L780.2 226.4L780.8 225.6" fill="none" stroke="#888" stroke-width="0.4"/>
</svg><!--/T1-->
<svg id="img2" class="abs" style="left:597px;top:230px" width="119" height="74" viewBox="0 0 119 74">
<defs><linearGradient id="bg2" x1="0" y1="0" x2="0" y2="1"><stop offset="0" stop-color="#f3f3f3"/><stop offset="1" stop-color="#e4e4e4"/></linearGradient></defs>
<rect width="119" height="74" fill="#fff"/>
<path d="M76 1.5H119M0 1.5H3" stroke="#cfcfcf" stroke-width="1"/>
<path d="M12.8 43V15.3a3 3 0 0 1 3-3H87.5a3 3 0 0 1 3 3V43Z" fill="url(#bg2)" stroke="#dcdcdc" stroke-width="1"/>
<text x="20.3" y="32.8" font-family="Liberation Sans, sans-serif" font-size="11.4" fill="#444" textLength="45.6" lengthAdjust="spacingAndGlyphs">Sessions</text>
<path d="M75.8 27H83L79.4 31.2Z" fill="#555"/>
<text x="96" y="32.8" font-family="Liberation Sans, sans-serif" font-size="10.6" font-weight="bold" fill="#444" textLength="16" lengthAdjust="spacingAndGlyphs">VS.</text>
<path d="M12.1 74V43.7H119" fill="none" stroke="#a9a9a9" stroke-width="1.8"/>
<path d="M16.9 74V49.5H119" fill="none" stroke="#bdbdbd" stroke-width="1.2"/>
<circle cx="27.9" cy="58.6" r="3.1" fill="none" stroke="#c6c6c6" stroke-width="1.7"/>
<path d="M30.3 61L36 66" stroke="#c6c6c6" stroke-width="2.2" stroke-linecap="round"/>
</svg>
<svg id="img3" class="abs" style="left:530px;top:312px" width="254" height="7" viewBox="0 0 254 7">
<rect width="254" height="7" fill="#e7e7e7"/>
<path d="M25 0.5H29M82 0.5H87M139 0.5H143M196 0.5H201M121 2.5H128" stroke="#d2d2d2" stroke-width="1"/>
<path d="M203 5.5H204.5M223 5.5H224.5" stroke="#4aa3d6" stroke-width="1"/><path d="M205.5 5.5H219M225.5 5.5H235" stroke="#cfcfcf" stroke-width="1"/>
</svg>
<svg id="img4" class="abs" style="left:535px;top:327px" width="243" height="244" viewBox="0 0 243 244">
<rect width="243" height="244" fill="#fff"/>
<rect x="68" y="0" width="5" height="1.6" rx="0.8" fill="#222"/>
<path d="M114.3 114.5L114.3 22.0A92.5 92.5 0 1 1 27.89 147.50Z" fill="#058dc7" stroke="#fff" stroke-width="1.3"/>
<path d="M114.3 114.5L114.3 22.0A92.5 92.5 0 0 0 27.89 147.50Z" fill="#50b432" stroke="#fff" stroke-width="1.3"/>
<path d="M113.8 17.799999999999997A96.7 96.7 0 1 1 23.96 149.00" fill="none" stroke="#058dc7" stroke-width="2.4"/>
<text x="56.3" y="77.3" text-anchor="middle" font-family="Liberation Sans, sans-serif" font-size="9.5" fill="#fff">30.8%</text>
<text x="171.5" y="156.8" text-anchor="middle" font-family="Liberation Sans, sans-serif" font-size="9.5" fill="#fff">69.2%</text>
</svg>
</div>
</body>
</html>
